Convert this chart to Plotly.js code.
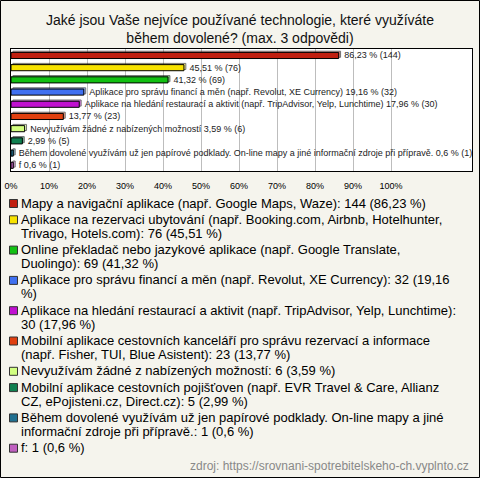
<!DOCTYPE html>
<html>
<head>
<meta charset="utf-8">
<script src="https://cdn.plot.ly/plotly-3.0.1.min.js"></script>
<style>
html,body{margin:0;padding:0;background:#f5f4ed;}
#chart{width:480px;height:478px;}
</style>
</head>
<body>
<div id="chart"></div>
<script>
// ---- data ----
const categories = [
  "Mapy a navigační aplikace (např. Google Maps, Waze)",
  "Aplikace na rezervaci ubytování (např. Booking.com, Airbnb, Hotelhunter, Trivago, Hotels.com)",
  "Online překladač nebo jazykové aplikace (např. Google Translate, Duolingo)",
  "Aplikace pro správu financí a měn (např. Revolut, XE Currency)",
  "Aplikace na hledání restaurací a aktivit (např. TripAdvisor, Yelp, Lunchtime)",
  "Mobilní aplikace cestovních kanceláří pro správu rezervací a informace (např. Fisher, TUI, Blue Asistent)",
  "Nevyužívám žádné z nabízených možností",
  "Mobilní aplikace cestovních pojišťoven (např. EVR Travel & Care, Allianz CZ, ePojisteni.cz, Direct.cz)",
  "Během dovolené využívám už jen papírové podklady. On-line mapy a jiné informační zdroje při přípravě.",
  "f"
];
const counts = [144, 76, 69, 32, 30, 23, 6, 5, 1, 1];
const percents = [86.23, 45.51, 41.32, 19.16, 17.96, 13.77, 3.59, 2.99, 0.6, 0.6];
const nameInBarLabel = [false, false, false, true, true, false, true, false, true, true];
// word at which each legend entry wraps to a second line (null = single line)
const legendWrapAt = [null, "Trivago,", "Duolingo):", "%)", "30", "(např.", null, "CZ,", "informační", null];
const colors = ["#c01f10", "#f7e200", "#12c012", "#4070f0", "#c010d0", "#e04010", "#d2ff80", "#108050", "#207090", "#c060c0"];
const tickVals = [0, 10, 20, 30, 40, 50, 60, 70, 80, 90, 100];
const tickText = ["0%", "10%", "20%", "30%", "40%", "50%", "60%", "70%", "80%", "90%", "100%"];
const titleText = "Jaké jsou Vaše nejvíce používané technologie, které využíváte<br>během dovolené? (max. 3 odpovědi)";
const sourceText = "zdroj: https://srovnani-spotrebitelskeho-ch.vyplnto.cz";

// ---- helpers ----
const W = 480, H = 478;
const M = {l: 11, r: 8, t: 49, b: 307};
const PW = W - M.l - M.r, PH = H - M.t - M.b;
const px2x = p => (p - M.l) / PW;
const py2y = p => (H - M.b - p) / PH;
const fmt = v => String(v).replace('.', ',');
const esc = s => s.replace(/&/g, '&amp;');
const FONT = "Arial, 'Liberation Sans', sans-serif";
const NB = '\u00a0';

const barText = categories.map((c, i) =>
  NB + esc((nameInBarLabel[i] ? c + ' ' : '') + fmt(percents[i]) + ' % (' + counts[i] + ')'));

const annotations = [];
const shapes = [];

// legend (manual)
let yc = 203;
categories.forEach((c, i) => {
  const full = c + ': ' + counts[i] + ' (' + fmt(percents[i]) + ' %)';
  let lines = [full];
  if (legendWrapAt[i]) {
    const k = full.indexOf(' ' + legendWrapAt[i]);
    lines = [full.slice(0, k), full.slice(k + 1)];
  }
  shapes.push({type: 'rect', xref: 'paper', yref: 'paper',
    x0: px2x(9.5), x1: px2x(17.5), y0: py2y(yc - 3.5), y1: py2y(yc + 4.5),
    fillcolor: colors[i], line: {color: '#333', width: 1}, layer: 'above'});
  lines.forEach((ln, k) => {
    annotations.push({xref: 'paper', yref: 'paper', x: px2x(19), y: py2y(yc + k * 14),
      xanchor: 'left', yanchor: 'middle', showarrow: false, text: esc(ln),
      font: {family: FONT, size: 13, color: '#000'}});
  });
  yc += lines.length * 14 + 2.3;
});

// source
annotations.push({xref: 'paper', yref: 'paper', x: px2x(471), y: py2y(465.5),
  xanchor: 'right', yanchor: 'middle', showarrow: false, text: sourceText,
  font: {family: FONT, size: 12, color: '#888'}});

// outer border
shapes.push({type: 'rect', xref: 'paper', yref: 'paper',
  x0: px2x(0.5), x1: px2x(479.5), y0: py2y(0.5), y1: py2y(477.5),
  line: {color: '#000', width: 1}, fillcolor: 'rgba(0,0,0,0)', layer: 'above'});

const traces = [
  {
    type: 'bar', orientation: 'h', y: categories, x: percents,
    base: 0.5, offset: -0.32, width: 0.5,
    marker: {color: colors, opacity: 0.55, line: {color: '#000', width: 1}},
    hoverinfo: 'skip', showlegend: false
  },
  {
    type: 'bar', orientation: 'h', y: categories, x: percents,
    offset: -0.22, width: 0.5,
    marker: {color: colors, line: {color: '#000', width: 1}},
    text: barText, textposition: 'outside', cliponaxis: false, constraintext: 'none',
    textfont: {family: FONT, size: 9, color: '#222'},
    showlegend: false
  }
];

const layout = {
  width: W, height: H,
  margin: M,
  paper_bgcolor: '#f5f4ed', plot_bgcolor: '#fff',
  barmode: 'overlay',
  showlegend: false,
  title: {text: titleText, font: {family: FONT, size: 14, color: '#111'},
    x: 0.5, xref: 'container', y: 1 - 25 / H, yref: 'container', yanchor: 'top'},
  xaxis: {range: [0, (PW) / 3.8], tickvals: tickVals, ticktext: tickText,
    showgrid: true, gridcolor: '#bdbdbd', gridwidth: 1, zeroline: false,
    showline: true, linecolor: '#000', linewidth: 1, mirror: true,
    ticks: 'outside', ticklen: 6, tickcolor: 'rgba(0,0,0,0)',
    tickfont: {family: FONT, size: 9, color: '#000'}, fixedrange: true},
  yaxis: {type: 'category', range: [9.5, -0.5], showticklabels: false, showgrid: false,
    showline: true, linecolor: '#000', linewidth: 1, mirror: true, ticks: '', fixedrange: true},
  annotations: annotations,
  shapes: shapes,
  font: {family: FONT}
};

Plotly.newPlot('chart', traces, layout, {displayModeBar: false, staticPlot: true});
</script>
</body>
</html>
